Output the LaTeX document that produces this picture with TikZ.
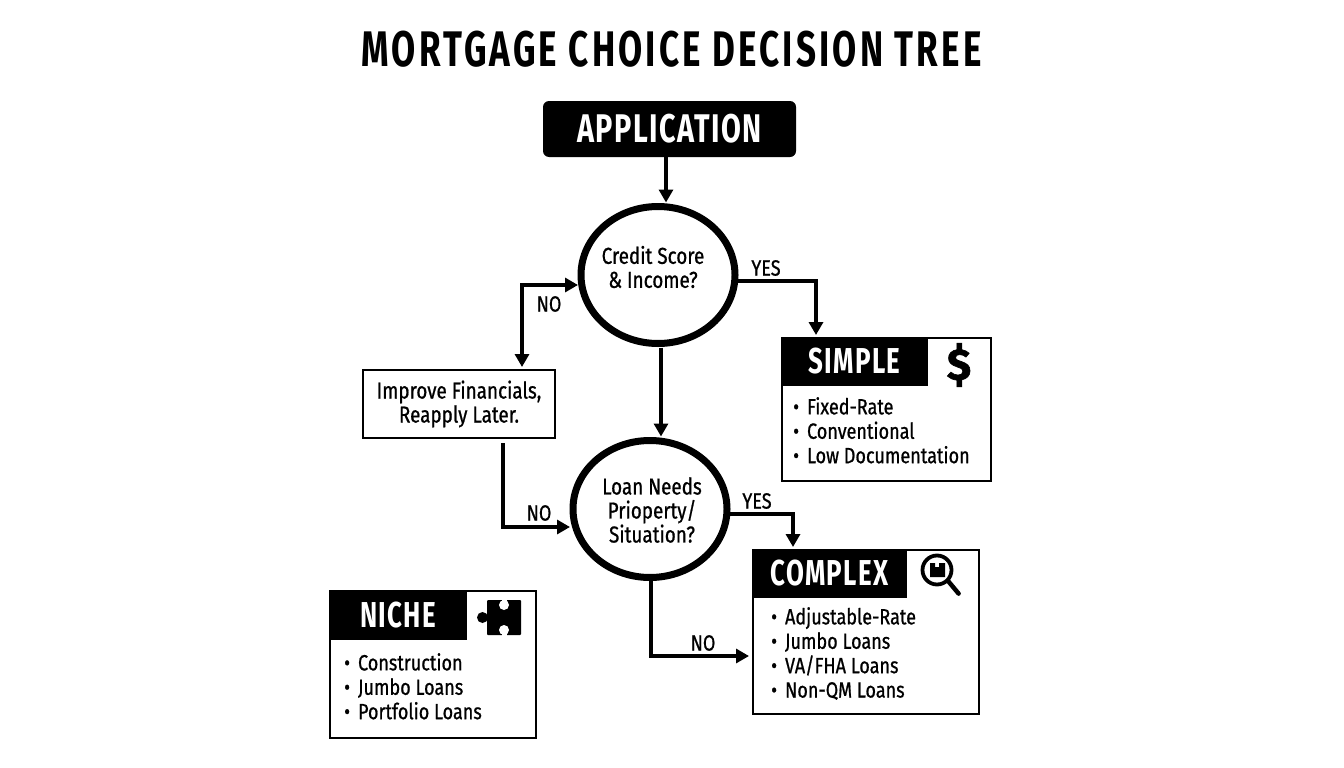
\documentclass[tikz,border=0pt]{standalone}
\usepackage{fontspec}
\usetikzlibrary{shapes.geometric,arrows.meta,positioning}
\newfontfamily\bodyfont[FakeStretch=0.82,FakeBold=0.8]{Fira Sans}
\newfontfamily\headfont[FakeStretch=0.72,LetterSpace=3.5]{Fira Sans Bold}
\newfontfamily\titlefont[FakeStretch=0.7,LetterSpace=6.3]{Fira Sans Bold}
\newfontfamily\symbfont[FakeBold=1.5]{Fira Sans Bold}
\tikzset{
 x=1pt,y=-1pt,
 ink/.style={draw=black,line width=2.6pt,fill=white,inner sep=0pt,outer sep=0pt},
 card/.style={ink,anchor=north west},
 header/.style={fill=black,text=white,inner sep=0pt,outer sep=0pt,anchor=north west,font=\headfont\fontsize{36}{38}\selectfont},
 decision/.style={ellipse,draw=black,line width=7pt,fill=white,inner sep=0pt,outer sep=0pt,minimum width=154pt,minimum height=137pt},
 qtext/.style={align=center,font=\bodyfont\fontsize{23}{24}\selectfont},
 items/.style={align=left,anchor=north west,inner sep=0pt,font=\bodyfont\fontsize{22}{24.4}\selectfont},
 arr/.style={draw=black,line width=3.2pt,-{Triangle[length=13pt,width=14pt]}},
 edgetext/.style={inner sep=0pt,font=\bodyfont\fontsize{22}{24}\selectfont},
}
\newcommand{\itm}[1]{\textbullet\hspace{8pt}#1}
\begin{document}
\begin{tikzpicture}
\useasboundingbox (0,0) rectangle (1344,768);
\fill[white] (0,0) rectangle (1344,768);
\node[font=\titlefont\fontsize{50}{52}\selectfont,inner sep=0pt] (title) at (671.5,49) {MORTGAGE CHOICE DECISION TREE};
\node[fill=black,rounded corners=6pt,text=white,minimum width=253pt,minimum height=56pt,inner sep=0pt,outer sep=0pt,font=\headfont\fontsize{40}{42}\selectfont] (app) at (669.5,129) {APPLICATION};

\node[decision,label={[qtext,xshift=-5pt,yshift=8pt]center:{Credit Score\\\& Income?}}] (c1) at (658,275) {};
\node[decision,label={[qtext,xshift=2pt,yshift=-1pt]center:{Loan Needs\\Prioperty/\\Situation?}}] (c2) at (650,509) {};

\node[card,minimum width=192pt,minimum height=68pt,line width=2.2pt,anchor=center,align=center,qtext] (improve) at (459,404) {Improve Financials,\\Reapply Later.};

% SIMPLE
\node[card,minimum width=209pt,minimum height=143pt] (simple) at (782,338) {};
\node[header,minimum width=147pt,minimum height=49pt] (simplehead) at (781,337) {SIMPLE};
\node[font=\symbfont\fontsize{44}{46}\selectfont,inner sep=0pt] (dollar) at (959,365) {\$};
\node[items] (simplelist) at (793,397) {\itm{Fixed-Rate}\\\itm{Conventional}\\\itm{Low Documentation}};

% COMPLEX
\node[card,minimum width=226pt,minimum height=164pt] (complex) at (753,550) {};
\node[header,minimum width=155pt,minimum height=49pt] (complexhead) at (752,549) {COMPLEX};
\node[circle,draw=black,line width=3.8pt,minimum size=29pt,inner sep=0pt] (lens) at (937,570) {};
\draw[line width=4.5pt,line cap=round] (lens.south east) -- ++(10,12);
\fill (930,563) -- (935,563) -- (935,567) -- (939,567) -- (939,563) -- (945,563) -- (945,577) -- (930,577) -- cycle;

% NICHE
\node[card,minimum width=206pt,minimum height=147pt] (niche) at (330,591) {};
\node[header,minimum width=138pt,minimum height=50pt] (nichehead) at (329,590) {NICHE};
\fill[rounded corners=1pt] (487,600) rectangle (521,635);
\fill (482.5,617.5) circle[radius=5.5];
\fill[white] (504,605) circle[radius=5];
\fill[white] (501.5,599) rectangle (506.5,604);
\fill[white] (504,630) circle[radius=5];
\fill[white] (501.5,631) rectangle (506.5,636);
\node[items] (nichelist) at (344,653) {\itm{Construction}\\\itm{Jumbo Loans}\\\itm{Portfolio Loans}};
\node[items] (complexlist) at (771,607) {\itm{Adjustable-Rate}\\\itm{Jumbo Loans}\\\itm{VA/FHA Loans}\\\itm{Non-QM Loans}};

% connectors
\draw[arr] ([xshift=-3.5pt]app.south) -- ([xshift=8pt,yshift=4pt]c1.north);
\draw[arr] ([xshift=3pt,yshift=-4pt]c1.south) -- ([xshift=11pt,yshift=4pt]c2.north);
\draw[draw=black,line width=3.2pt,{Triangle[length=13pt,width=14pt]}-{Triangle[length=13pt,width=14pt]}] ([xshift=63pt,yshift=3pt]improve.north) |- ([xshift=-3pt,yshift=-10pt]c1.west);
\draw[arr] ([xshift=44pt,yshift=-5pt]improve.south) |- ([xshift=-3pt,yshift=-18pt]c2.west);
\draw[arr] (c1.east |- 737,281) -| ([xshift=34pt,yshift=3pt]simple.north west);
\draw[arr] (c2.east |- 729,514) -| ([xshift=-73pt,yshift=3pt]complex.north);
\draw[arr] ([xshift=1pt,yshift=-3pt]c2.south) |- ([xshift=-4pt]complex.west |- 0,656);

\node[edgetext] (yes1) at (766,268) {YES};
\node[edgetext] (no1) at (549,304) {NO};
\node[edgetext] (no2) at (539,513) {NO};
\node[edgetext] (yes2) at (757,501) {YES};
\node[edgetext] (no3) at (703,643) {NO};
\end{tikzpicture}
\end{document}
